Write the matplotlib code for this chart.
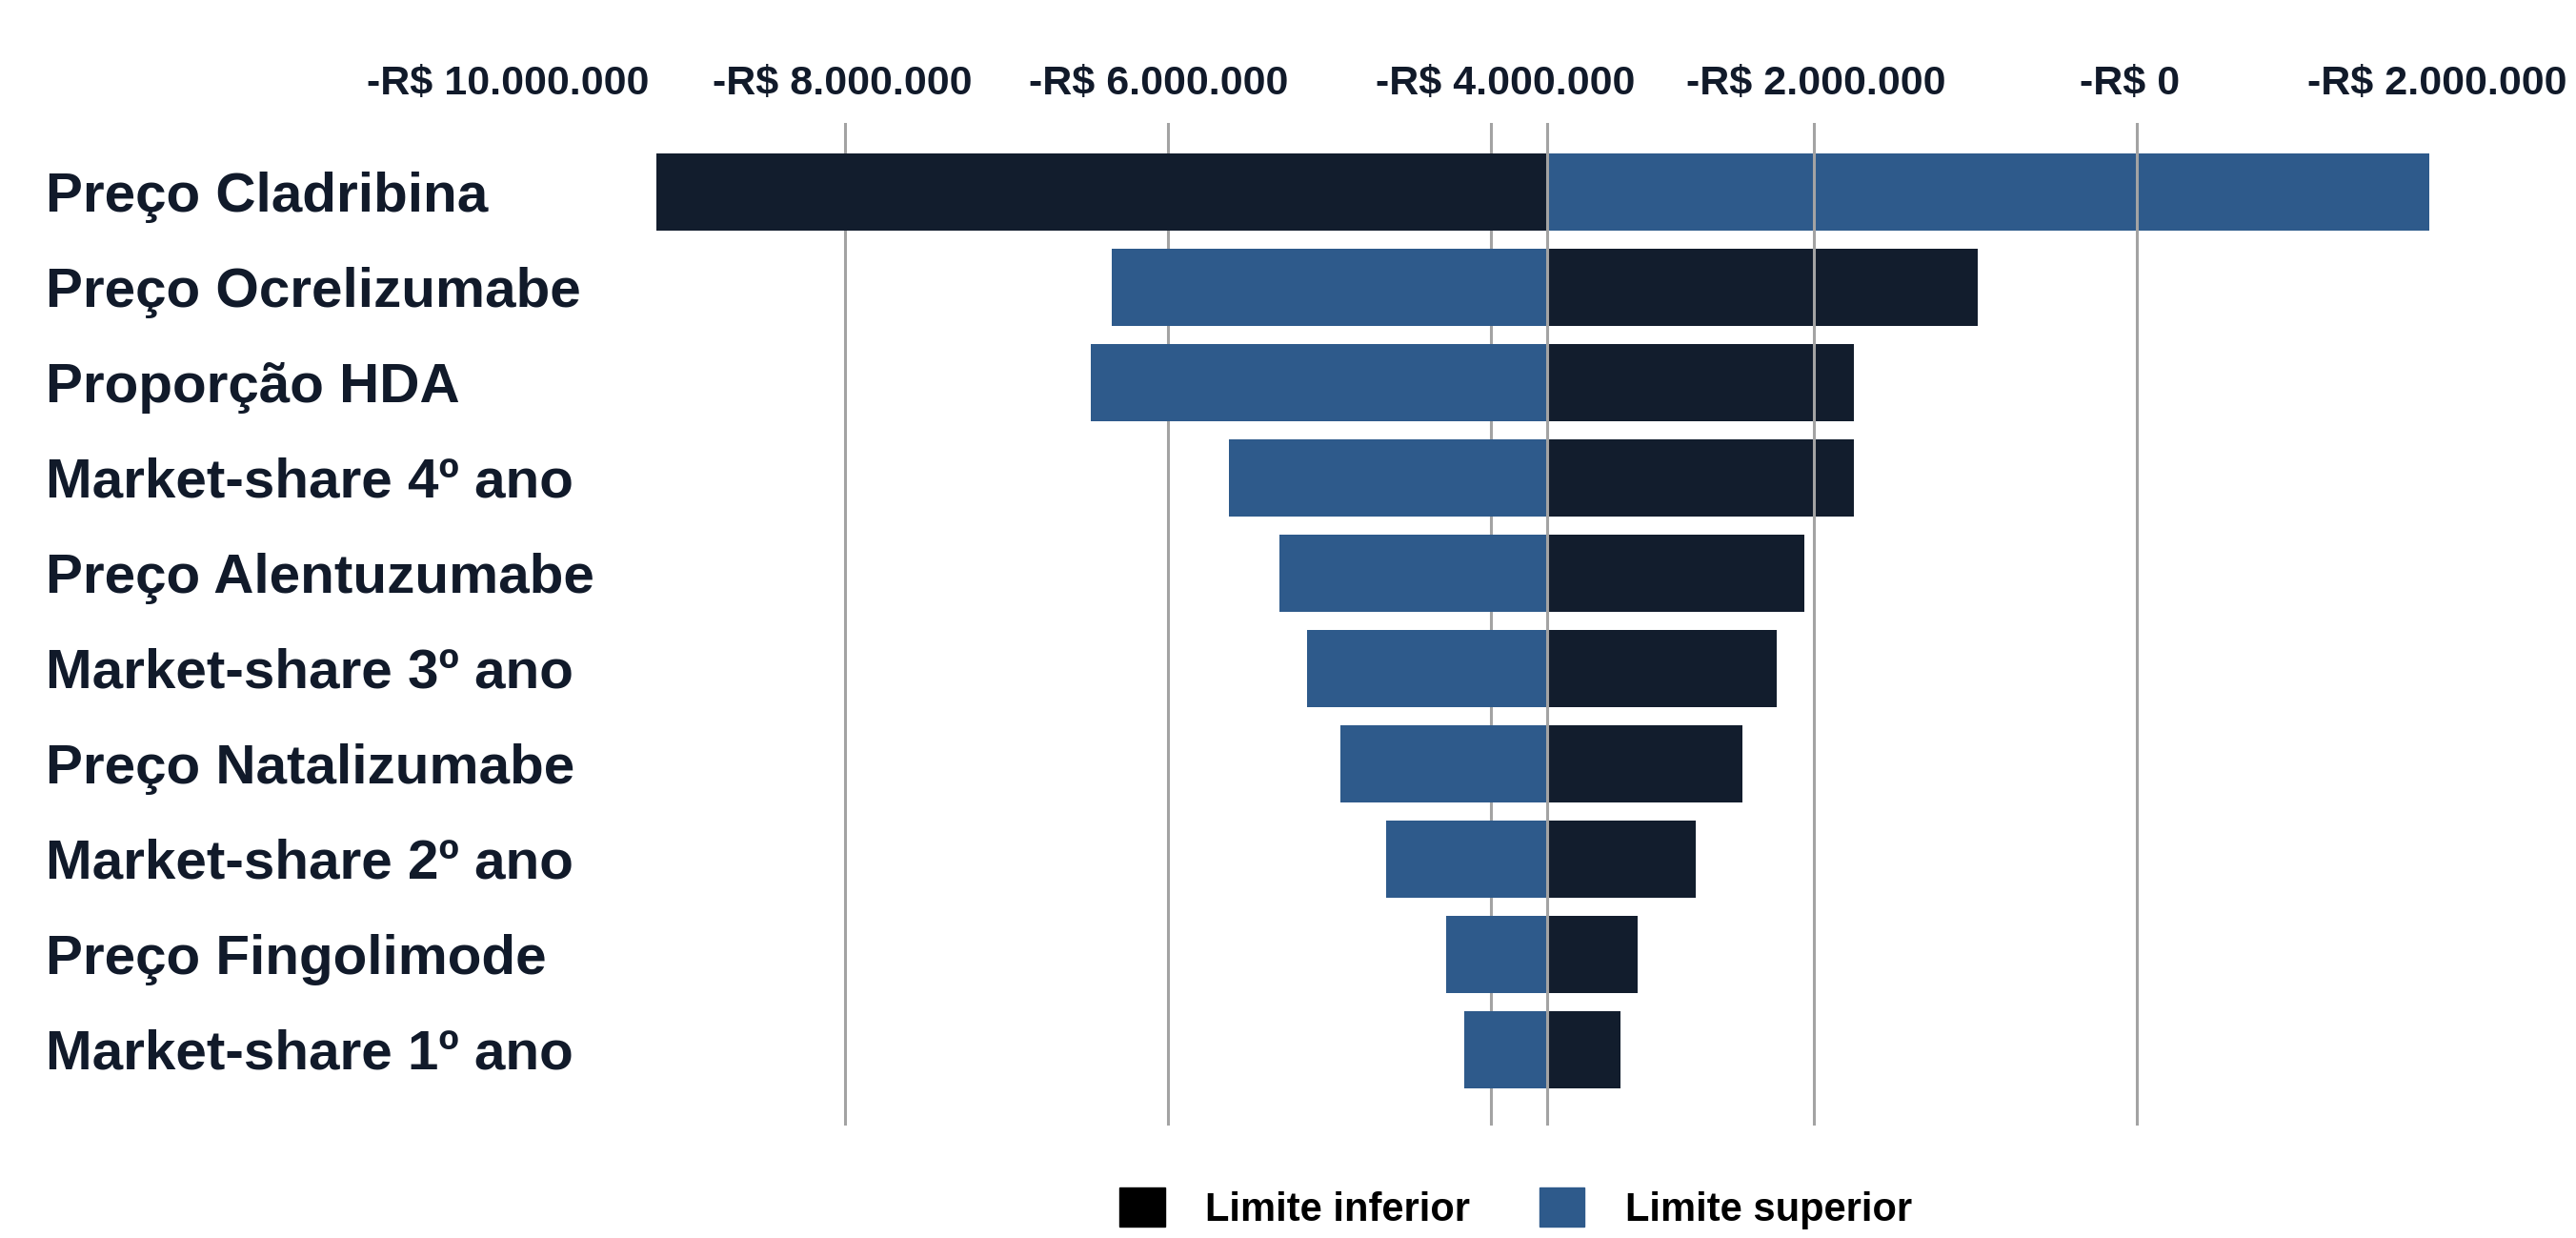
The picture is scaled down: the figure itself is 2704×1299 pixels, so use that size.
import matplotlib
matplotlib.use("Agg")
import matplotlib.pyplot as plt
from matplotlib.patches import Patch
from matplotlib.transforms import ScaledTranslation


# Cores do gráfico
class Cores:
    INFERIOR = '#121d2d'
    SUPERIOR = '#2e5a8b'
    TEXTO = '#111a2a'
    GRADE = '#a3a3a3'


categorias = [
    "Preço Cladribina",
    "Preço Ocrelizumabe",
    "Proporção HDA",
    "Market-share 4º ano",
    "Preço Alentuzumabe",
    "Market-share 3º ano",
    "Preço Natalizumabe",
    "Market-share 2º ano",
    "Preço Fingolimode",
    "Market-share 1º ano",
]

# valor do caso base (centro do tornado)
caso_base = -3.65e6

limite_inferior = [-9.17e6, -0.985e6, -1.75e6, -1.755e6, -2.06e6,
                   -2.23e6, -2.44e6, -2.73e6, -3.09e6, -3.20e6]
limite_superior = [1.81e6, -6.35e6, -6.48e6, -5.62e6, -5.31e6,
                   -5.14e6, -4.93e6, -4.65e6, -4.28e6, -4.165e6]

ticks_x = [-10e6, -8e6, -6e6, -4e6, -2e6, 0, 2e6]
rotulos_x = ["-R$ 10.000.000", "-R$ 8.000.000", "-R$ 6.000.000",
             "-R$ 4.000.000", "-R$ 2.000.000", "-R$ 0", "-R$ 2.000.000"]
legenda = ["Limite inferior", "Limite superior"]

# pequeno deslocamento dos rótulos do eixo x (px), como no original
desloc_rotulos = [-15, -3, -10, 15, 2, -7, -24]


def main():
    plt.rcParams['font.family'] = ['Liberation Sans', 'DejaVu Sans']
    plt.rcParams['font.weight'] = 'bold'

    fig = plt.figure(figsize=(27.04, 12.99), dpi=100)
    ax = fig.add_axes((548 / 2704, 1 - 1181 / 1299, 2034 / 2704, 1052 / 1299))

    y = list(range(len(categorias)))
    ax.barh(y, [v - caso_base for v in limite_inferior], left=caso_base,
            height=0.81, color=Cores.INFERIOR, zorder=2)
    ax.barh(y, [v - caso_base for v in limite_superior], left=caso_base,
            height=0.81, color=Cores.SUPERIOR, zorder=2)

    # linhas de grade: as da esquerda ficam atrás das barras, as da direita na frente
    for x in ticks_x[1:-1]:
        z = 3 if x > caso_base else 1
        ax.axvline(x, color=Cores.GRADE, lw=2.2, zorder=z)
    ax.axvline(caso_base, color=Cores.GRADE, lw=2.2, zorder=3)

    ax.set_xlim(ticks_x[0], ticks_x[-1])
    ax.set_ylim(len(categorias) - 0.2, -0.72)

    ax.xaxis.tick_top()
    ax.set_xticks(ticks_x)
    ax.set_xticklabels(rotulos_x, fontsize=31, fontweight='bold', color=Cores.TEXTO)
    ax.tick_params(axis='x', length=0, pad=15)
    for lbl, dx in zip(ax.get_xticklabels(), desloc_rotulos):
        lbl.set_transform(lbl.get_transform() + ScaledTranslation(dx / 100, 0, fig.dpi_scale_trans))

    ax.set_yticks(y)
    ax.set_yticklabels(categorias, fontsize=42, fontweight='bold', color=Cores.TEXTO,
                       ha='left')
    ax.tick_params(axis='y', length=0, pad=360)

    for s in ax.spines.values():
        s.set_visible(False)

    # legenda no rodapé (no original fica quase encostada na borda)
    handles = [Patch(color='black'), Patch(color=Cores.SUPERIOR)]
    fig.legend(handles, legenda, loc='upper center', bbox_to_anchor=(0.5884, 1 - 1246 / 1299),
               ncol=2, frameon=False, borderpad=0, borderaxespad=0,
               handlelength=1.15, handleheight=1.15, handletextpad=1.03,
               columnspacing=1.73, prop={'weight': 'bold', 'size': 30})

    fig.savefig("out.png", dpi=100, facecolor='white')


if __name__ == "__main__":
    main()
